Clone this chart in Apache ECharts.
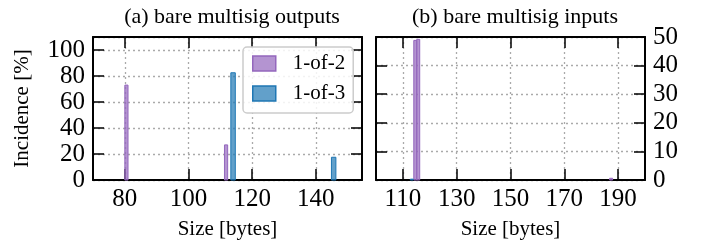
<!DOCTYPE html>
<html>
<head>
<meta charset="utf-8">
<script src="https://cdn.jsdelivr.net/npm/echarts@6/dist/echarts.min.js"></script>
<style>
  html, body { margin: 0; padding: 0; background: #fff; }
  #chart { width: 702px; height: 246px; }
</style>
</head>
<body>
<div id="chart"></div>
<script>
// (a) outputs
const outSize2 = [80.5, 111.8];
const outPct2 = [73, 27];
const outSize3 = [114, 145.6];
const outPct3 = [82.5, 17.5];
// (b) inputs
const inSize2 = [114.6, 115.7, 187.4];
const inPct2 = [48.8, 49.2, 0.6];
const inSize3 = [113.3];
const inPct3 = [0.3];

const ticksA = [80, 100, 120, 140];
const ticksB = [110, 130, 150, 170, 190];
const seriesNames = ['1-of-2', '1-of-3'];

const FONT = 'Liberation Serif';
const purple = { fill: 'rgba(148,103,189,0.7)', edge: '#9467bd' };
const blue = { fill: 'rgba(31,119,180,0.7)', edge: '#1f77b4' };

const zip = (xs, ys) => xs.map((x, i) => [x, ys[i]]);

// histogram-like bars drawn through the axis scale
const barSeries = (name, xIdx, yIdx, data, col, binW) => ({
  name: name,
  type: 'custom',
  xAxisIndex: xIdx,
  yAxisIndex: yIdx,
  data: data,
  itemStyle: { color: col.fill, borderColor: col.edge },
  renderItem: (params, api) => {
    const top = api.coord([api.value(0), api.value(1)]);
    const base = api.coord([api.value(0), 0]);
    const w = api.size([binW, 0])[0];
    return {
      type: 'rect',
      shape: { x: top[0] - w / 2, y: top[1], width: w, height: base[1] - top[1] },
      style: { fill: col.fill, stroke: col.edge, lineWidth: 1 }
    };
  }
});

const lineStyle = { color: '#000', width: 2 };
const tickStyle = { color: '#000', width: 1.5 };
const gridLine = { show: true, lineStyle: { color: '#aaa', type: [2, 3], width: 1.3 } };
const labelFont = { color: '#000', fontFamily: FONT, fontSize: 25 };
const nameFont = { color: '#000', fontFamily: FONT, fontSize: 21 };
const titleFont = { fontFamily: FONT, fontSize: 22, fontWeight: 'normal', color: '#000' };

const xAx = (grid, min, max, ticks, pos, withLabels) => ({
  type: 'value', gridIndex: grid, min: min, max: max, position: pos,
  name: withLabels ? 'Size [bytes]' : '', nameLocation: 'middle', nameGap: 39,
  nameTextStyle: nameFont,
  axisLine: { show: true, onZero: false, lineStyle: lineStyle },
  axisTick: { show: true, inside: true, length: 11, lineStyle: tickStyle, customValues: ticks },
  axisLabel: Object.assign({ show: withLabels, margin: 7, customValues: ticks }, labelFont),
  splitLine: withLabels ? gridLine : { show: false }
});

const yAx = (grid, max, interval, pos, withLabels, name) => ({
  type: 'value', gridIndex: grid, min: 0, max: max, interval: interval, position: pos,
  name: name || '', nameLocation: 'middle', nameGap: 60, nameTextStyle: nameFont,
  axisLine: { show: true, onZero: false, lineStyle: lineStyle },
  axisTick: { show: true, inside: true, length: 11, lineStyle: tickStyle },
  axisLabel: Object.assign({ show: withLabels, margin: 8, showMaxLabel: max % interval === 0 }, labelFont),
  splitLine: pos === 'left' ? gridLine : { show: false }
});

const chart = echarts.init(document.getElementById('chart'));
chart.setOption({
  animation: false,
  title: [
    { text: '(a) bare multisig outputs', left: 227, top: 1, textAlign: 'center', textStyle: titleFont },
    { text: '(b) bare multisig inputs', left: 510, top: 1, textAlign: 'center', textStyle: titleFont }
  ],
  legend: {
    orient: 'vertical', left: 243, top: 47, icon: 'rect',
    itemWidth: 23, itemHeight: 15, itemGap: 9,
    padding: [6, 8, 9, 9],
    backgroundColor: 'rgba(255,255,255,0.85)', borderColor: '#ccc', borderWidth: 1.5, borderRadius: 4,
    textStyle: { fontFamily: FONT, fontSize: 21, color: '#000', padding: [0, 0, 0, 12] },
    data: [
      { name: seriesNames[0], itemStyle: { color: purple.fill, borderColor: purple.edge, borderWidth: 1.5 } },
      { name: seriesNames[1], itemStyle: { color: blue.fill, borderColor: blue.edge, borderWidth: 1.5 } }
    ]
  },
  grid: [
    { left: 93, right: 340, top: 37, bottom: 66 },
    { left: 376, right: 57, top: 37, bottom: 66 }
  ],
  xAxis: [
    xAx(0, 70, 154.5, ticksA, 'bottom', true),
    xAx(0, 70, 154.5, ticksA, 'top', false),
    xAx(1, 100, 200, ticksB, 'bottom', true),
    xAx(1, 100, 200, ticksB, 'top', false)
  ],
  yAxis: [
    yAx(0, 110, 20, 'left', true, 'Incidence [%]'),
    yAx(0, 110, 20, 'right', false),
    yAx(1, 50, 10, 'left', false),
    yAx(1, 50, 10, 'right', true)
  ],
  series: [
    barSeries(seriesNames[0], 0, 0, zip(outSize2, outPct2), purple, 1.0),
    barSeries(seriesNames[1], 0, 0, zip(outSize3, outPct3), blue, 1.4),
    barSeries(seriesNames[0], 2, 2, zip(inSize2, inPct2), purple, 1.1),
    barSeries(seriesNames[1], 2, 2, zip(inSize3, inPct3), blue, 1.1)
  ]
});
</script>
</body>
</html>
